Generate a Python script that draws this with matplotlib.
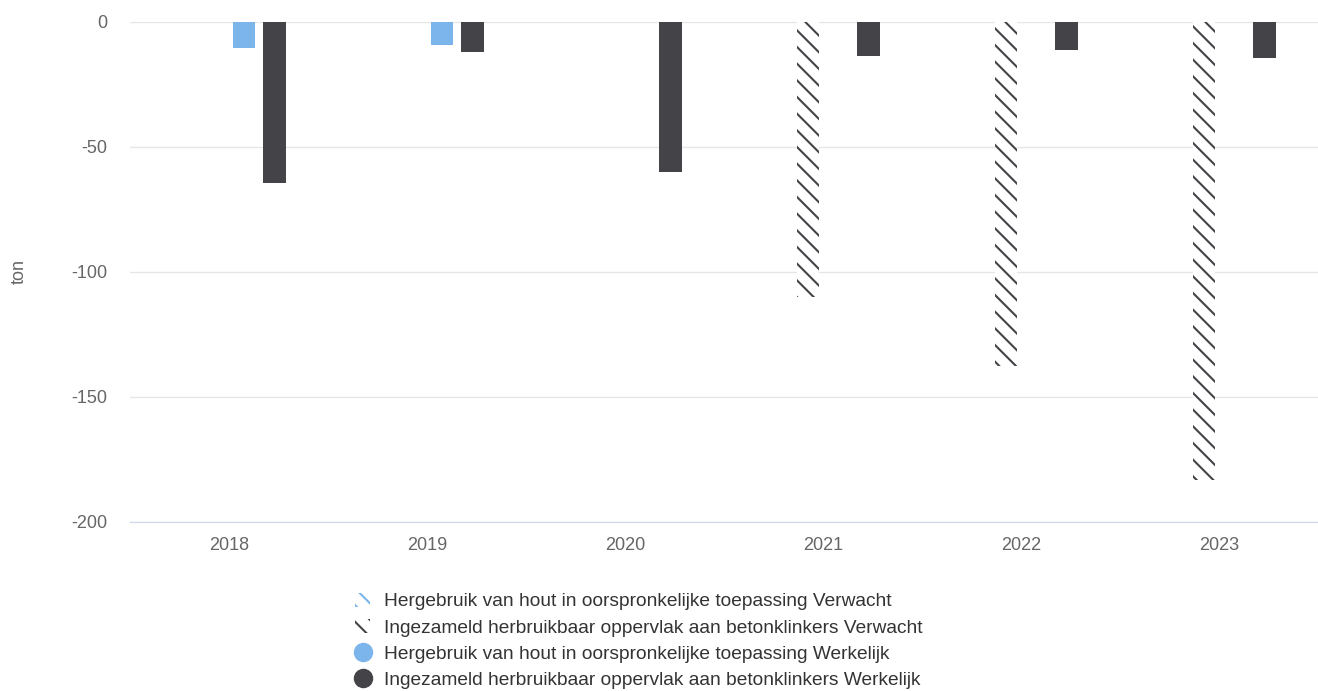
import numpy as np
import matplotlib.pyplot as plt
from matplotlib.patches import Patch
from matplotlib.lines import Line2D

plt.rcParams['font.family'] = ['Liberation Sans', 'DejaVu Sans']
plt.rcParams['hatch.linewidth'] = 1.5
plt.rcParams['axes.unicode_minus'] = False

# Gegevens
jaren = ['2018', '2019', '2020', '2021', '2022', '2023']
hout_verwacht = [np.nan, np.nan, np.nan, np.nan, np.nan, np.nan]
beton_verwacht = [np.nan, np.nan, np.nan, -110, -137.7, -183.3]
hout_werkelijk = [-10.6, -9.2, np.nan, np.nan, np.nan, np.nan]
beton_werkelijk = [-64.5, -12.0, -60.1, -13.7, -11.2, -14.4]

labels = [
    'Hergebruik van hout in oorspronkelijke toepassing Verwacht',
    'Ingezameld herbruikbaar oppervlak aan betonklinkers Verwacht',
    'Hergebruik van hout in oorspronkelijke toepassing Werkelijk',
    'Ingezameld herbruikbaar oppervlak aan betonklinkers Werkelijk',
]

blauw = '#7cb5ec'
donker = '#434348'

fig = plt.figure(figsize=(13.18, 6.91), dpi=100)
ax = fig.add_axes([130 / 1318, 1 - 521.7 / 691, 1188 / 1318, 500 / 691])

x = np.arange(len(jaren))
breedte = 0.113
stap = 0.153

ax.bar(x - 1.5 * stap, hout_verwacht, breedte, facecolor='white',
       edgecolor=blauw, linewidth=0, hatch='\\\\', zorder=3)
ax.bar(x - 0.5 * stap, beton_verwacht, breedte, facecolor='white',
       edgecolor=donker, linewidth=0, hatch='\\\\', zorder=3)
ax.bar(x + 0.5 * stap, hout_werkelijk, breedte, color=blauw, zorder=3)
ax.bar(x + 1.5 * stap, beton_werkelijk, breedte, color=donker, zorder=3)

ax.set_xlim(-0.5, len(jaren) - 0.5)
ax.set_ylim(-200, 0)
ax.set_yticks([0, -50, -100, -150, -200])
ax.set_xticks(x)
ax.set_xticklabels(jaren)
ax.grid(axis='y', color='#e6e6e6', linewidth=1, zorder=0)
ax.set_axisbelow(True)
for s in ['top', 'right', 'left']:
    ax.spines[s].set_visible(False)
ax.spines['bottom'].set_color('#ccd6eb')
ax.tick_params(axis='y', length=0, pad=16.5, labelsize=13, labelcolor='#666666')
ax.tick_params(axis='x', length=0, pad=11, labelsize=13, labelcolor='#666666')
fig.text(19 / 1318, 1 - 271 / 691, 'ton', rotation=90, ha='center', va='center',
         fontsize=13, color='#666666')

handles = [
    Patch(facecolor='white', edgecolor=blauw, linewidth=0, hatch='\\\\'),
    Patch(facecolor='white', edgecolor=donker, linewidth=0, hatch='\\\\'),
    Line2D([], [], marker='o', linestyle='', markersize=13, color=blauw),
    Line2D([], [], marker='o', linestyle='', markersize=13, color=donker),
]
fig.legend(handles, labels, loc='upper left', bbox_to_anchor=(355 / 1318, 1 - 592.5 / 691),
           frameon=False, fontsize=13.8, labelcolor='#333333', handlelength=0.8,
           handleheight=0.8, handletextpad=0.71, labelspacing=0.43, borderpad=0,
           borderaxespad=0)

fig.savefig('out.png', dpi=100)
